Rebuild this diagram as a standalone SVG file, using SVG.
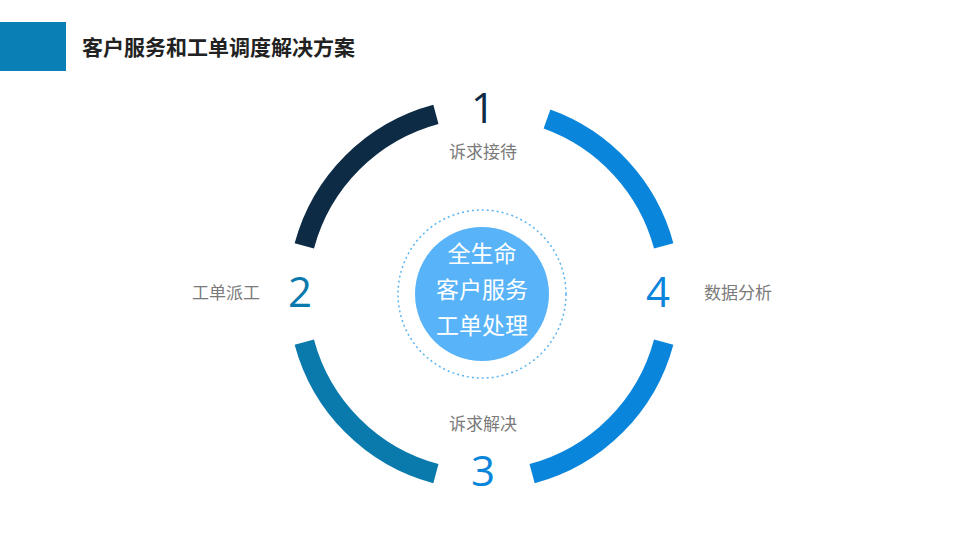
<svg xmlns="http://www.w3.org/2000/svg" width="960" height="540" viewBox="0 0 960 540">
<style>
.arc{fill:none;stroke-width:20}
.num{font-family:"Open Sans","Liberation Sans",sans-serif;font-size:42px;text-anchor:middle}
.lbl{font-family:"Liberation Sans","Noto Sans CJK SC",sans-serif;font-size:17px;fill:#7a7a7a;text-anchor:middle}
.ctr{font-family:"Liberation Sans","Noto Sans CJK SC",sans-serif;font-size:23px;fill:#fff;text-anchor:middle}
</style>
<rect width="960" height="540" fill="#fff"/>
<g id="header">
<rect x="0" y="22" width="66" height="49" fill="#0a7fb5"/>
<text x="82" y="55" font-family="Liberation Sans,Noto Sans CJK SC,sans-serif" font-size="21" font-weight="bold" fill="#222">客户服务和工单调度解决方案</text>
</g>
<g id="connectors">
<path class="arc" stroke="#0d2b45" d="M304.3,245.9 A186,186 0 0 1 435.9,114.3"/>
<path class="arc" stroke="#0a85dc" d="M547,119 A186,186 0 0 1 663.7,245.9"/>
<path class="arc" stroke="#0a85dc" d="M663.7,342.1 A186,186 0 0 1 532.1,473.7"/>
<path class="arc" stroke="#0a7aad" d="M435.9,473.7 A186,186 0 0 1 304.3,342.1"/>
</g>
<g id="center">
<circle cx="482" cy="294" r="84" fill="none" stroke="#5ab4f0" stroke-width="1.5" stroke-dasharray="2 3"/>
<circle cx="482" cy="294" r="67" fill="#58b3f8"/>
<text class="ctr" x="482" y="262">全生命</text>
<text class="ctr" x="482" y="298">客户服务</text>
<text class="ctr" x="482" y="334">工单处理</text>
</g>
<g id="n1"><text class="num" x="483" y="123" fill="#0d2b45">1</text><text class="lbl" x="483" y="158">诉求接待</text></g>
<g id="n2"><text class="num" x="300" y="307" fill="#0a7aad">2</text><text class="lbl" x="226" y="299">工单派工</text></g>
<g id="n3"><text class="num" x="483" y="486" fill="#0a85dc">3</text><text class="lbl" x="483" y="430">诉求解决</text></g>
<g id="n4"><text class="num" x="658" y="307" fill="#0a85dc">4</text><text class="lbl" x="738" y="299">数据分析</text></g>
</svg>
